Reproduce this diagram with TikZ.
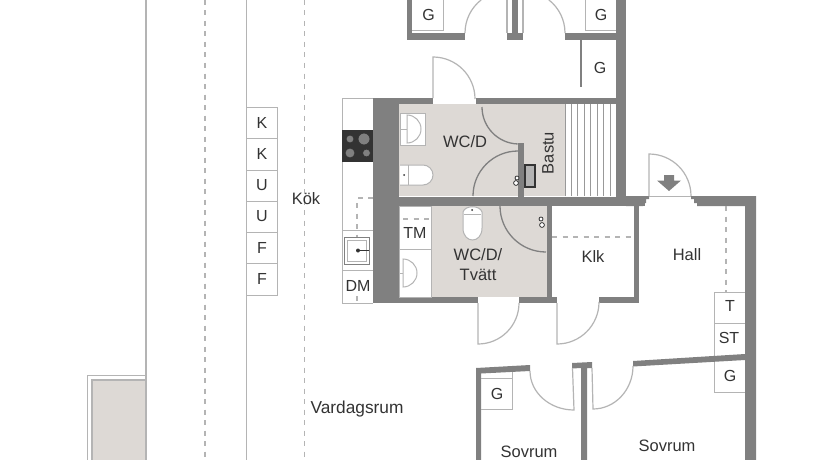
\documentclass[tikz,border=0pt]{standalone}
\usepackage{fontspec}
\setmainfont{Liberation Sans}
\definecolor{wallc}{HTML}{808080}
\definecolor{linec}{HTML}{B4B4B4}
\definecolor{floorc}{HTML}{DDD9D5}
\definecolor{inkc}{HTML}{333333}
\tikzset{
 wall/.style={fill=wallc,draw=none},
 thin line/.style={draw=linec,line width=1pt},
 leaf/.style={draw=linec,line width=1.2pt},
 swing/.style={draw=wallc,line width=1.3pt},
 dashline/.style={draw=linec,line width=1.2pt,dash pattern=on 5pt off 5.5pt},
 lab/.style={text=inkc,font=\fontsize{16.5}{18}\selectfont,inner sep=0pt},
 slab/.style={text=inkc,font=\fontsize{16}{18}\selectfont,inner sep=0pt},
}
\begin{document}
\begin{tikzpicture}[x=1pt,y=-1pt]
\useasboundingbox (0,0) rectangle (840,460);
\fill[white] (0,0) rectangle (840,460);
% balcony
\draw[thin line] (87,460) -- (87,375) -- (146,375);
\draw[thin line,fill=floorc,line width=1.3pt] (92,460) -- (92,380) -- (146,380) -- (146,460);
% long walls & dashes
\draw[draw=linec,line width=1.6pt] (146,0) -- (146,460);
\draw[thin line] (246,0) -- (246,460);
\draw[dashline] (205,0) -- (205,460);
\draw[dashline] (304.5,0) -- (304.5,460);
% kitchen units
\foreach \ya/\yb/\t [count=\i] in {107/138/K,138/170/K,170/201/U,201/232/U,232/263/F,263/295/F}{
 \draw[thin line] (246,\ya) rectangle (277,\yb);
 \node[slab] (unit\i) at (262,{(\ya+\yb)/2}) {\t};
}
% floors
\fill[floorc] (399,104) rectangle (565,196);
\fill[floorc] (431,206) rectangle (547,297);
% sauna bench
\foreach \x in {565,571,577.5,584,590.5,597,603.5,610}{\draw[draw=wallc!80,line width=.9pt] (\x,104) -- (\x,196);}
% counter
\draw[thin line] (373,98) -- (342,98) -- (342,303) -- (373,303);
\draw[thin line] (342,230) -- (373,230);
\draw[thin line] (342,270) -- (373,270);
\draw[dashline] (373,198) -- (357,198) -- (357,237);
\draw[dashline] (357,296) -- (357,303);
% stove
\fill[inkc] (342,130) rectangle (373,162);
\foreach \x/\y/\r in {350/139/4,364/139/6,350/153/5,366.500/153/4}{
 \fill[wallc] (\x,\y) circle[radius=\r];
 \draw[black!80,line width=.8pt] (\x,\y) circle[radius=\r];
}
% kitchen sink
\draw[draw=wallc,line width=1pt,fill=white] (344,237) rectangle (369,264);
\draw[linec,line width=1pt] (347,240) rectangle (366,261);
\fill[inkc] (358,250.500) circle[radius=2];
\draw[inkc,line width=.9pt] (358,250.500) -- (369,250.500);
\node[slab] (dm) at (358,286) {DM};
% walls around baths
\fill[wall] (373,98) -- (433,98) -- (433,104) -- (373,104) -- cycle;
\fill[wall] (476,98) -- (626,98) -- (626,104) -- (476,104) -- cycle;
\fill[wall] (373,98) rectangle (399,303);
\fill[wall] (373,196.500) rectangle (645,206);
\fill[wall] (616,0) rectangle (626,196.500);
\fill[wall] (518,143) rectangle (524,196.500);
\fill[wall] (547,206) rectangle (552,297);
\fill[wall] (633.500,206) rectangle (639,303);
\fill[wall] (373,297) rectangle (478,303);
\fill[wall] (519,297) rectangle (557,303);
\fill[wall] (599,297) rectangle (639,303);
% hall walls
\fill[wall] (626,196) -- (649,196) -- (649,199) -- (646,199) -- (646,203) -- (643,203) -- (643,206) -- (626,206) -- cycle;
\fill[wall] (691,196) -- (756,196) -- (756,460) -- (745,460) -- (745,206) -- (697,206) -- (697,203) -- (694,203) -- (694,199) -- (691,199) -- cycle;
% top rooms
\fill[wall] (407,0) rectangle (412,40);
\fill[wall] (407,33) rectangle (465,40);
\fill[wall] (507,33) rectangle (523,40);
\fill[wall] (512,0) rectangle (518,40);
\fill[wall] (565,33) rectangle (616,40);
\draw[thin line] (412,31) -- (443,31) -- (443,0);
\draw[thin line] (616,31) -- (585,31) -- (585,0);
\draw[leaf] (507,0) -- (507,33);
\draw[leaf] (523,0) -- (523,33);
\draw[leaf] (465,33) arc[start angle=-180,end angle=-128,radius=42];
\draw[leaf] (565,33) arc[start angle=0,end angle=-52,radius=42];
\node[slab] (g1) at (428.500,15) {G};
\node[slab] (g2) at (601,14.500) {G};
\node[slab] (g3) at (600,68) {G};
\draw[draw=wallc,line width=1.6pt] (581,40) -- (581,87);
% door above WC/D
\coordinate (dA) at (433,98);
\draw[leaf] (dA) -- (433,57) arc[start angle=-90,end angle=0,radius=42];
% WC/D fixtures
\draw[thin line,fill=white] (400,113) rectangle (425,145);
\draw[thin line,fill=white] (407,115) arc[start angle=-90,end angle=90,radius=14] -- cycle;
\draw[thin line] (400,129) -- (407,129);
\draw[thin line,fill=white] (400,165) -- (423,165) arc[start angle=-90,end angle=90,radius=10] -- (400,185);
\draw[draw=linec,line width=.8pt] (408,165) -- (408,185);
\fill[inkc] (404,175) circle[radius=1];
% WC/D door arcs
\draw[swing] (482,107) arc[start angle=180,end angle=92,radius=37];
\draw[swing] (473,196) arc[start angle=180,end angle=270,radius=45];
\node[lab] (wcd) at (465,141.500) {WC/D};
\node[lab,rotate=90] (bastu) at (548,153) {Bastu};
% Heater
\draw[draw=inkc,line width=1.6pt,fill=wallc!60] (525,165) rectangle (535,187);
\draw[draw=inkc,line width=.8pt,fill=white] (517,178) circle[radius=2];
\draw[draw=inkc,line width=.8pt,fill=white] (516,183) circle[radius=2.400];
% Tvätt fixtures
\draw[thin line,fill=white] (399,206) rectangle (431,297);
\draw[dashline] (403,219) -- (431,219);
\draw[thin line] (399,249) -- (431,249);
\node[slab] (tm) at (415,233) {TM};
\draw[thin line,fill=white] (403,259) arc[start angle=-90,end angle=90,radius=14] -- cycle;
\draw[thin line] (400,273) -- (403,273);
\draw[thin line,fill=white] (463,228) .. controls (463,244) and (482,244) .. (482,228) -- (482,212) .. controls (480,205) and (465,205) .. (463,212) -- cycle;
\draw[thin line] (464,214) -- (481,214);
\fill[inkc] (472,210) circle[radius=1];
\draw[swing] (500,206) arc[start angle=180,end angle=90,radius=46];
\draw[draw=inkc,line width=.8pt,fill=white] (541,219) circle[radius=2];
\draw[draw=inkc,line width=.8pt,fill=white] (542,225) circle[radius=2.400];
\node[lab] (wct) at (478,254.500) {WC/D/};
\node[lab] (wct2) at (478,275) {Tvätt};
\node[lab] (klk) at (593,257) {Klk};
\draw[dashline] (552,237) -- (633,237);
% lower doors
\draw[leaf] (478,303) -- (478,344) arc[start angle=90,end angle=0,radius=41];
\draw[leaf] (557,303) -- (557,344) arc[start angle=90,end angle=0,radius=42];
% Hall
\draw[leaf] (649,196) -- (649,154) arc[start angle=-90,end angle=0,radius=42];
\draw[thin line] (649,196) -- (691,196);
\fill[wallc] (664,175) -- (674,175) -- (674,180.500) -- (681,180.500) -- (669,191) -- (657,180.500) -- (664,180.500) -- cycle;
\node[lab] (hall) at (687,255) {Hall};
\draw[dashline] (726,206) -- (726,292);
\draw[thin line] (745,292) -- (714,292) -- (714,392) -- (745,392);
\draw[thin line] (714,323) -- (745,323);
\node[slab] (t) at (730,306) {T};
\node[slab] (st) at (729,338) {ST};
\node[slab] (g4) at (730,376) {G};
% bedrooms
\fill[wall] (633,361) -- (745,354) -- (745,360) -- (633,366.500) -- cycle;
\fill[wall] (476,368) -- (530,365) -- (530,371) -- (481,373.500) -- (481,460) -- (476,460) -- cycle;
\fill[wall] (572,363) -- (592,362) -- (592,368) -- (587,368) -- (587,460) -- (581,460) -- (581,368) -- (572,368.500) -- cycle;
\draw[thin line] (481,378) -- (512,378);
\draw[thin line] (481,409) -- (512,409) -- (512,372);
\node[slab] (g5) at (497,394) {G};
\draw[leaf] (530,371) arc[start angle=180,end angle=90,x radius=44,y radius=39] -- (572.500,368);
\draw[leaf] (592,368) -- (593,409) arc[start angle=90,end angle=0,x radius=40,y radius=43];
\node[lab] (sov1) at (529,452) {Sovrum};
\node[lab] (sov2) at (667,446) {Sovrum};
\node[text=inkc,font=\fontsize{17.3}{18}\selectfont,inner sep=0pt] (var) at (357,409.500) {Vardagsrum};
\node[lab] (kok) at (306,199) {Kök};
\end{tikzpicture}
\end{document}
